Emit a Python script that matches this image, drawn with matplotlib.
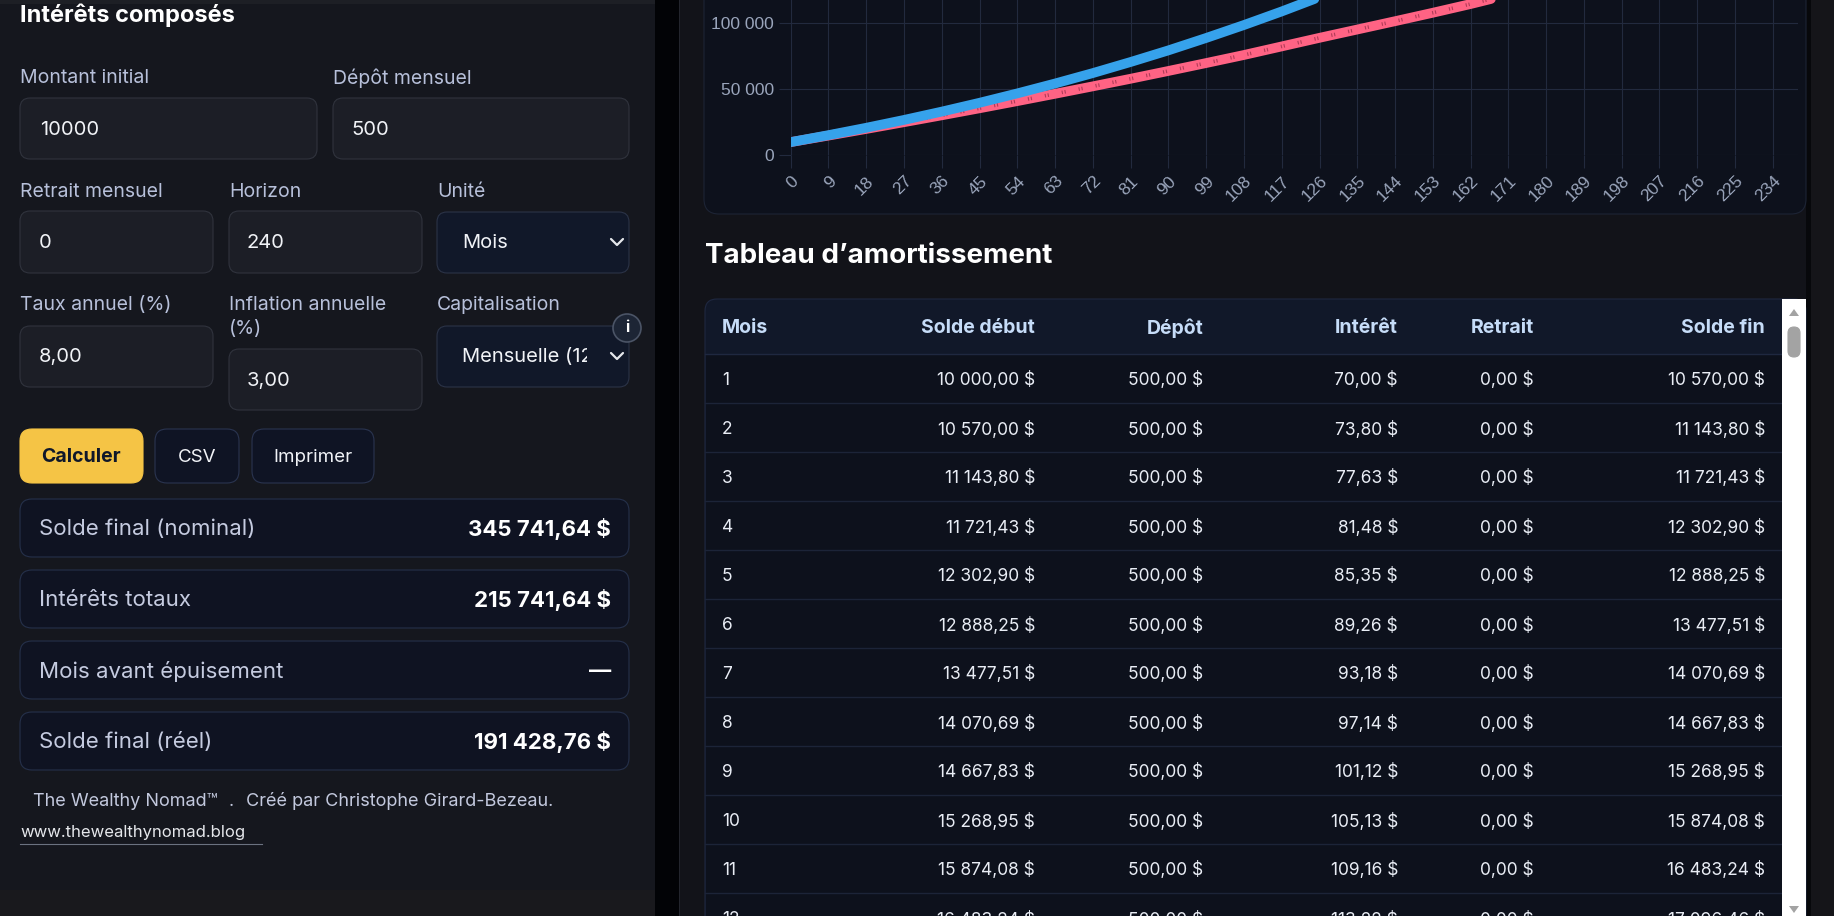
import matplotlib
matplotlib.use("Agg")
import matplotlib.pyplot as plt
from matplotlib.patches import FancyBboxPatch, Rectangle, Circle, Polygon
from matplotlib.transforms import Bbox

W, H = 1834, 916

# --- chart data (balance per month) ---
months = [0, 9, 18, 27, 36, 45, 54, 63, 72, 81, 90, 99, 108, 117, 126, 135,
          144, 153, 162, 171, 180, 189, 198, 207, 216, 225, 234, 240]
nominal = [10000, 15270, 20860, 26800, 33110, 39800, 46900, 54400, 62300,
           70700, 79500, 88900, 98700, 109000, 119900, 131700, 144300,
           157700, 172000, 187200, 203400, 220700, 239000, 258500, 279300,
           301300, 324800, 345742]
real = [10000, 14930, 19960, 25080, 30300, 35620, 41060, 46600, 52250,
        58000, 63900, 69900, 76000, 82500, 89000, 95300, 101600, 108000,
        114600, 121700, 129300, 137300, 145700, 154400, 163500, 173000,
        182800, 191429]
x_ticks = [0, 9, 18, 27, 36, 45, 54, 63, 72, 81, 90, 99, 108, 117, 126, 135,
           144, 153, 162, 171, 180, 189, 198, 207, 216, 225, 234]
y_ticks = [0, 50000, 100000, 150000, 200000, 250000, 300000, 350000]

# --- amortization table ---
table_cols = ["Mois", "Solde début", "Dépôt", "Intérêt", "Retrait", "Solde fin"]
mois = [1, 2, 3, 4, 5, 6, 7, 8, 9, 10, 11, 12]
solde_debut = [10000.00, 10570.00, 11143.80, 11721.43, 12302.90, 12888.25,
               13477.51, 14070.69, 14667.83, 15268.95, 15874.08, 16483.24]
depot = [500.00, 500.00, 500.00, 500.00, 500.00, 500.00,
         500.00, 500.00, 500.00, 500.00, 500.00, 500.00]
interet = [70.00, 73.80, 77.63, 81.48, 85.35, 89.26,
           93.18, 97.14, 101.12, 105.13, 109.16, 113.22]
retrait = [0.00, 0.00, 0.00, 0.00, 0.00, 0.00,
           0.00, 0.00, 0.00, 0.00, 0.00, 0.00]
solde_fin = [10570.00, 11143.80, 11721.43, 12302.90, 12888.25, 13477.51,
             14070.69, 14667.83, 15268.95, 15874.08, 16483.24, 17096.46]

# --- form & results ---
result_labels = ["Solde final (nominal)", "Intérêts totaux",
                 "Mois avant épuisement", "Solde final (réel)"]
result_values = ["345 741,64 $", "215 741,64 $", "—", "191 428,76 $"]

FONT = ["Inter", "DejaVu Sans"]
plt.rcParams["lines.scale_dashes"] = False


def money(v):
    s = f"{v:,.2f}".replace(",", " ").replace(".", ",")
    return s + " $"


fig = plt.figure(figsize=(W / 100, H / 100), dpi=100)
fig.patch.set_facecolor("#121319")
ax = fig.add_axes([0, 0, 1, 1])
ax.set_xlim(0, W)
ax.set_ylim(H, 0)
ax.axis("off")


def box(x0, y0, x1, y1, fc, ec=None, r=10, lw=0.8, z=1):
    p = FancyBboxPatch((x0, y0), x1 - x0, y1 - y0,
                       boxstyle=f"round,pad=0,rounding_size={r}",
                       fc=fc, ec=ec if ec else fc, lw=lw, zorder=z)
    ax.add_patch(p)


def txt(x, y, s, size, color, weight="normal", ha="left", z=5, family=FONT):
    return ax.text(x, y, s, fontsize=size, color=color, fontweight=weight,
                   ha=ha, va="center", family=family, zorder=z)


def chevron(x, y):
    ax.plot([x - 6, x, x + 6], [y - 3, y + 3, y - 3], color="#e5e7eb",
            lw=1.6, zorder=6, solid_capstyle="round")


# panels
ax.add_patch(Rectangle((0, 0), 655, H, fc="#15171e", zorder=0))
ax.add_patch(Rectangle((0, 0), 655, 4, fc="#1d1f25", zorder=0))
ax.add_patch(Rectangle((0, 890), 655, 26, fc="#19191d", zorder=0))
ax.add_patch(Rectangle((655, 0), 24, H, fc="#020306", zorder=0))
ax.add_patch(Rectangle((679, 0), 1, H, fc="#23252d", zorder=0))
ax.add_patch(Rectangle((1806, 0), 5, H, fc="#07080b", zorder=0))
ax.add_patch(Rectangle((1811, 0), 23, H, fc="#151519", zorder=0))

LBL = "#b7c0da"
VAL = "#f1f3f7"
txt(20, 15, "Intérêts composés", 17, "#ffffff", "bold")

# inputs
LS, VS = 14, 14.5
txt(20, 78, "Montant initial", LS, LBL)
txt(333, 78, "Dépôt mensuel", LS, LBL)
box(20, 98, 317, 159, "#1c1e26", "#30333d")
box(333, 98, 629, 159, "#1c1e26", "#30333d")
txt(40, 130, "10000", VS, VAL)
txt(351, 130, "500", VS, VAL)

txt(20, 192, "Retrait mensuel", LS, LBL)
txt(229, 192, "Horizon", LS, LBL)
txt(437, 192, "Unité", LS, LBL)
box(20, 211, 213, 273, "#1c1e26", "#30333d")
box(229, 211, 422, 273, "#1c1e26", "#30333d")
box(437, 212, 629, 273, "#111829", "#2b3347")
txt(39, 243, "0", VS, VAL)
txt(247, 243, "240", VS, VAL)
txt(462, 243, "Mois", VS, VAL)
chevron(617, 242)

txt(20, 305, "Taux annuel (%)", LS, LBL)
txt(229, 305, "Inflation annuelle", LS, LBL)
txt(229, 329, "(%)", LS, LBL)
txt(437, 305, "Capitalisation", LS, LBL)
box(20, 326, 213, 387, "#1c1e26", "#30333d")
box(229, 349, 422, 410, "#1c1e26", "#30333d")
box(437, 326, 629, 387, "#111829", "#2b3347")
txt(39, 357, "8,00", VS, VAL)
txt(247, 381, "3,00", VS, VAL)
sel = txt(462, 357, "Mensuelle (12 mois)", VS, VAL)
sel.set_clip_on(True)
sel.set_clip_box(Bbox.from_extents(437, H - 387, 587, H - 326))
chevron(617, 356)
ax.add_patch(Circle((627, 328), 14, fc="#1d2535", ec="#4b5466", lw=1.2, zorder=7))
txt(627, 328, "i", 11, "#ffffff", "bold", ha="center", z=8)

# buttons
box(20, 429, 143, 483, "#f5c445", r=12)
txt(81, 457, "Calculer", 14, "#0f172a", "bold", ha="center")
box(155, 429, 239, 483, "#0f1424", "#2a3450", r=12)
txt(197, 457, "CSV", 13.5, VAL, ha="center")
box(252, 429, 374, 483, "#0f1424", "#2a3450", r=12)
txt(313, 457, "Imprimer", 13.5, VAL, ha="center")

# results
card_tops = [499, 570, 641, 712]
for top, lab, val in zip(card_tops, result_labels, result_values):
    box(20, top, 629, top + 58, "#0f1322", "#25304a", r=12)
    txt(39, top + 30, lab, 16, "#c5cbe0")
    txt(611, top + 30, val, 16, "#ffffff", "bold", ha="right")

FOOT = "#c3c9de"
txt(33, 801, "The Wealthy Nomad™", 13, FOOT)
txt(229, 801, ".", 13, FOOT)
txt(246, 801, "Créé par Christophe Girard-Bezeau.", 13, FOOT)
txt(20, 833, "www.thewealthynomad.blog", 12, "#e5e7eb")
ax.plot([20, 262], [844, 844], color="#6b7280", lw=0.8, zorder=5)

# chart card
box(704, -30, 1806, 214, "#0d111c", "#1d2435", r=15)

# table
txt(705, 256, "Tableau d’amortissement", 20, "#ffffff", "bold")
box(705, 299, 1806, 1000, "#111829", "#1f2840", r=12)
ax.add_patch(Rectangle((706, 354), 1100, 650, fc="#0d111c", zorder=1.5))
col_x = [722, 1035, 1203, 1398, 1534, 1765]
col_ha = ["left", "right", "right", "right", "right", "right"]
for cx_, ha, name in zip(col_x, col_ha, table_cols):
    txt(cx_, 328, name, 14, "#c6dcf8", "bold", ha=ha)
ax.plot([705, 1782], [354, 354], color="#1f2840", lw=1, zorder=2)
for i, row in enumerate(zip(mois, solde_debut, depot, interet, retrait, solde_fin)):
    yc = 379 + 49 * i
    cells = [str(row[0])] + [money(v) for v in row[1:]]
    for cx_, ha, s in zip(col_x, col_ha, cells):
        txt(cx_, yc + 1.5, s, 12.5, "#e9edf5", ha=ha)
    ax.plot([705, 1782], [yc + 24, yc + 24], color="#1c2438", lw=1, zorder=2)

# scrollbar
ax.add_patch(Rectangle((1782, 299), 24, 700, fc="#ffffff", zorder=3))
ax.add_patch(Polygon([[1789, 316], [1799, 316], [1794, 309]], fc="#a3a3a3", zorder=4))
box(1788, 327, 1800, 357, "#a3a3a3", r=6, z=4)
ax.add_patch(Polygon([[1789, 906], [1799, 906], [1794, 913]], fc="#a3a3a3", zorder=4))

# --- the chart itself ---
x0, x1 = 790.7, 1798
y_zero, px_per_100k = 155.3, 132
cx = fig.add_axes([x0 / W, 1 - y_zero / H, (x1 - x0) / W, 3.5 * px_per_100k / H])
cx.set_zorder(2)
cx.set_facecolor("none")
cx.set_xlim(0, 240)
cx.set_ylim(0, 350000)
for s in cx.spines.values():
    s.set_visible(False)
GRID = "#222a3e"
cx.set_xticks(x_ticks)
cx.set_xticklabels([str(t) for t in x_ticks], rotation=45, ha="right",
                   rotation_mode="anchor", family=["Liberation Sans"])
cx.set_yticks(y_ticks)
cx.set_yticklabels([f"{t:,}".replace(",", " ") for t in y_ticks],
                   family=["Liberation Sans"])
cx.tick_params(axis="x", length=9, width=0.8, color=GRID, labelcolor="#9aa5bb",
               labelsize=12.5, pad=4)
cx.tick_params(axis="y", length=8.4, width=0.8, color=GRID, labelcolor="#9aa5bb",
               labelsize=12.5, pad=3.6)
cx.grid(True, color=GRID, lw=0.8)
cx.set_axisbelow(True)

cx.plot(months, real, color="#ff6384", lw=7, solid_capstyle="round", zorder=3)
cx.plot(months, real, color="#b03c58", lw=2.6, dashes=(0.8, 1.3, 0.8, 9.5),
        dash_capstyle="butt", zorder=4)
cx.plot(months, nominal, color="#36a2eb", lw=7, solid_capstyle="round", zorder=5)

fig.savefig("out.png", dpi=100, facecolor=fig.get_facecolor())
